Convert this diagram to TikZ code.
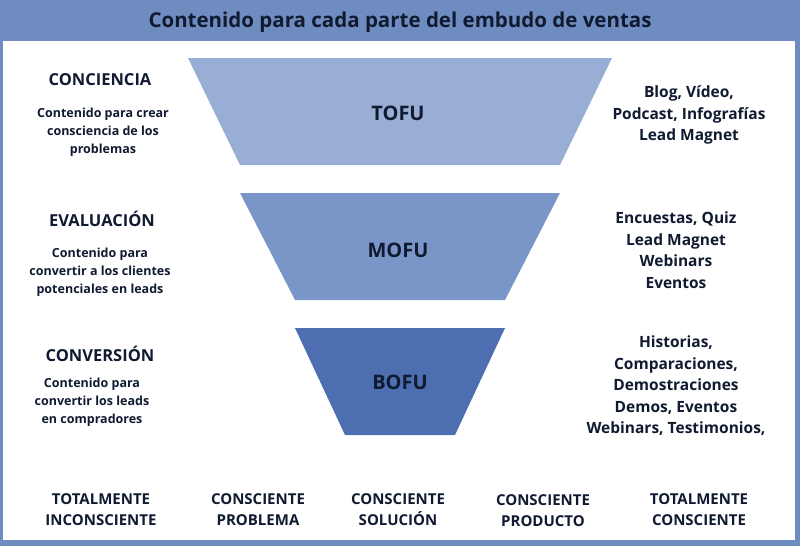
\documentclass[tikz,border=0pt]{standalone}
\usepackage{fontspec}
\setmainfont{Open Sans}
\begin{document}
\definecolor{frame}{HTML}{6F8CC0}
\definecolor{ink}{HTML}{101A30}
\definecolor{c1}{HTML}{98AED4}
\definecolor{c2}{HTML}{7A96C8}
\definecolor{c3}{HTML}{4D6EB1}
\begin{tikzpicture}[x=1pt,y=-1pt,
  every node/.style={text=ink,font=\bfseries,align=center},
  head/.style={font=\fontsize{16.5}{20}\selectfont\bfseries},
  small/.style={font=\fontsize{12.5}{18}\selectfont\bfseries},
  right/.style={font=\fontsize{15.5}{21.5}\selectfont\bfseries},
  bot/.style={font=\fontsize{15}{21}\selectfont\bfseries},
  lab/.style={font=\fontsize{20}{24}\selectfont\bfseries}]
\fill[frame] (0,0) rectangle (800,546);
\fill[white] (3,41) rectangle (795,540);
\node[font=\fontsize{20.5}{24}\selectfont\bfseries] (title) at (400,22) {Contenido para cada parte del embudo de ventas};
\fill[c1] (188,58) -- (612,58) -- (560,165) -- (240,165) -- cycle;
\fill[c2] (240,193) -- (560,193) -- (505,300) -- (295,300) -- cycle;
\fill[c3] (295,328) -- (505,328) -- (455,435) -- (345,435) -- cycle;
\node[lab] (tofu) at (398,113) {TOFU};
\node[lab] (mofu) at (398,250) {MOFU};
\node[lab] (bofu) at (400,382) {BOFU};
\node[head] (h1) at (100,80) {CONCIENCIA};
\node[small] (s1) at (103,132) {Contenido para crear\\consciencia de los\\problemas};
\node[head] (h2) at (102,219) {EVALUACIÓN};
\node[small] (s2) at (100,272) {Contenido para\\convertir a los clientes\\potenciales en leads};
\node[head] (h3) at (100,354) {CONVERSIÓN};
\node[small] (s3) at (92,402) {Contenido para\\convertir los leads\\en compradores};
\node[right] (r1) at (689,115) {Blog, Vídeo,\\Podcast, Infografías\\Lead Magnet};
\node[right] (r2) at (676,250) {Encuestas, Quiz\\Lead Magnet\\Webinars\\Eventos};
\node[right] (r3) at (676,386) {Historias,\\Comparaciones,\\Demostraciones\\Demos, Eventos\\Webinars, Testimonios,};
\node[bot] (b1) at (101,510) {TOTALMENTE\\INCONSCIENTE};
\node[bot] (b2) at (258,510) {CONSCIENTE\\PROBLEMA};
\node[bot] (b3) at (398,510) {CONSCIENTE\\SOLUCIÓN};
\node[bot] (b4) at (543,511) {CONSCIENTE\\PRODUCTO};
\node[bot] (b5) at (699,510) {TOTALMENTE\\CONSCIENTE};
\end{tikzpicture}
\end{document}
